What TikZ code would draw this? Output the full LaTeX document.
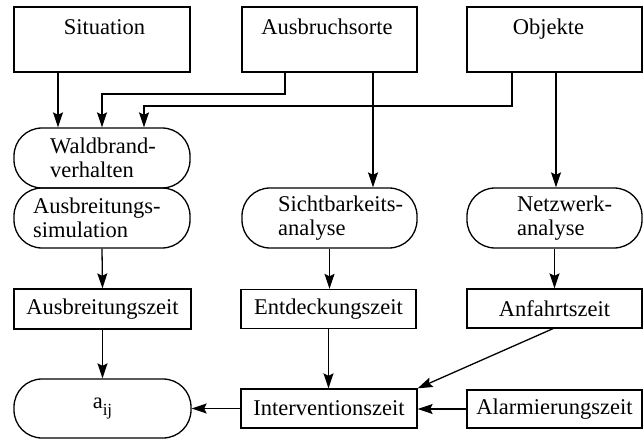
\documentclass[tikz,border=0pt]{standalone}
\usepackage{fontspec}
\setmainfont{Liberation Serif}
\usetikzlibrary{arrows.meta}
\begin{document}
\begin{tikzpicture}[x=1pt,y=-1pt,
  box/.style={draw, line width=1.3pt, inner sep=0pt, rectangle},
  stad/.style={draw, line width=1.3pt, inner sep=0pt, rounded corners=28pt},
  txt/.style={inner sep=0pt, align=left},
  arr/.style={line width=1.3pt, -{Stealth[length=15pt,width=10pt,inset=2.5pt]}},
  font=\fontsize{22.5}{24.5}\selectfont]
\useasboundingbox (0,0) rectangle (643,441);
% top row
\node[box, minimum width=176pt, minimum height=65pt] (sit) at (102,39.5) {};
\node[txt, anchor=base] (sitT) at (104.5,35) {Situation};
\node[box, minimum width=175pt, minimum height=65pt] (aus) at (329.5,39.5) {};
\node[txt, anchor=base] (ausT) at (327,35) {Ausbruchsorte};
\node[box, minimum width=175pt, minimum height=65pt] (obj) at (554.5,39.5) {};
\node[txt, anchor=base] (objT) at (548.5,35) {Objekte};
% process row
\node[stad, minimum width=176pt, minimum height=60pt] (wald) at (102,158) {};
\node[txt, anchor=west] (waldT) at (50,158) {Waldbrand-\\verhalten};
\node[stad, minimum width=176pt, minimum height=60pt] (ausb) at (102,218) {};
\node[txt, anchor=west] (ausbT) at (33,218) {Ausbreitungs-\\simulation};
\node[stad, minimum width=175pt, minimum height=60pt] (sicht) at (329.5,218) {};
\node[txt, anchor=west] (sichtT) at (278,218) {Sichtbarkeits-\\analyse};
\node[stad, minimum width=175pt, minimum height=60pt] (netz) at (554.5,218) {};
\node[txt, anchor=west] (netzT) at (517,218) {Netzwerk-\\analyse};
% time row
\node[box, minimum width=177pt, minimum height=40pt] (ausz) at (102.5,309) {Ausbreitungszeit};
\node[box, minimum width=175pt, minimum height=39pt] (entd) at (328.5,309) {Entdeckungszeit};
\node[box, minimum width=175pt, minimum height=39pt] (anf) at (554.5,308.5) {Anfahrtszeit};
% bottom row
\node[stad, minimum width=177pt, minimum height=59pt] (aij) at (102.5,408.5) {a\raisebox{-7pt}{\fontsize{17}{17}\selectfont ij}};
\node[box, minimum width=176pt, minimum height=39pt] (interv) at (329,408.5) {Interventionszeit};
\node[box, minimum width=175pt, minimum height=38pt] (alarm) at (554.5,409) {Alarmierungszeit};
% connectors
\draw[arr] ([xshift=-44pt]sit.south) -- ([xshift=-44pt]wald.north);
\draw[arr] ([xshift=-44.5pt]aus.south) |- (102,94) -- (wald.north);
\draw[arr] ([xshift=-42.5pt]obj.south) |- (144,106) -- ([xshift=42pt]wald.north);
\draw[arr] ([xshift=43.5pt]aus.south) -- ([xshift=43.5pt]sicht.north);
\draw[arr] ([xshift=1.5pt]obj.south) -- ([xshift=1.5pt]netz.north);
\draw[arr] (ausb.south) -- (ausz.north);
\draw[arr] (sicht.south) -- (sicht.south |- entd.north);
\draw[arr] (netz.south) -- (netz.south |- anf.north);
\draw[arr] (ausz.south) -- (aij.north);
\draw[arr] (entd.south) -- (entd.south |- interv.north);
\draw[arr] ([xshift=-1.5pt]anf.south) -- (interv.north east);
\draw[arr] (alarm.west) -- (alarm.west -| interv.east);
\draw[arr] (interv.west) -- (aij.east);
\end{tikzpicture}
\end{document}
